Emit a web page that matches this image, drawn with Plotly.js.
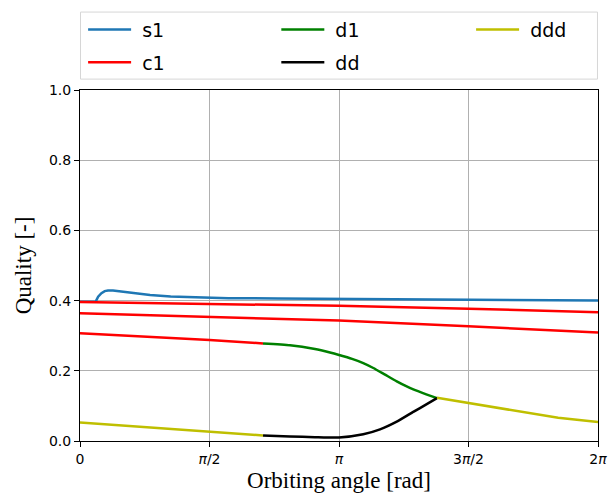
<!DOCTYPE html>
<html>
<head>
<meta charset="utf-8">
<script src="https://cdn.plot.ly/plotly-3.0.1.min.js"></script>
<style>
  html, body { margin: 0; padding: 0; background: #fff; }
  #chart { width: 610px; height: 496px; }
</style>
</head>
<body>
<div id="chart"></div>
<script>
// Orbiting angle (rad) and quality for each regime

// s1
const s1Angle = [0, 0.19, 0.22, 0.26, 0.30, 0.34, 0.40, 0.50, 0.65, 0.85, 1.10, 1.40, 1.80, 2.40, 3.14, 4.00, 4.90, 5.60, 6.283];
const s1Quality = [0.397, 0.397, 0.411, 0.421, 0.427, 0.429, 0.429, 0.426, 0.421, 0.416, 0.412, 0.409, 0.407, 0.406, 0.405, 0.404, 0.402, 0.401, 0.400];

// c1, three passes
const c1AngleA = [0, 1.571, 3.142, 4.712, 6.283];
const c1QualityA = [0.396, 0.391, 0.385, 0.377, 0.367];
const c1AngleB = [0, 1.571, 3.142, 4.712, 6.283];
const c1QualityB = [0.364, 0.354, 0.343, 0.327, 0.309];
const c1AngleC = [0, 1.571, 2.220];
const c1QualityC = [0.307, 0.288, 0.278];

// d1
const d1Angle = [2.220, 2.547, 2.850, 3.032, 3.142, 3.300, 3.436, 3.558, 3.700, 3.842, 3.950, 4.043, 4.200, 4.330];
const d1Quality = [0.278, 0.273, 0.262, 0.252, 0.245, 0.234, 0.222, 0.208, 0.189, 0.170, 0.157, 0.147, 0.133, 0.122];

// dd
const ddAngle = [2.220, 2.547, 2.850, 3.142, 3.436, 3.639, 3.842, 4.043, 4.206, 4.330];
const ddQuality = [0.016, 0.013, 0.011, 0.010, 0.019, 0.033, 0.055, 0.083, 0.105, 0.122];

// ddd, two passes
const dddAngleA = [0, 1.571, 2.220];
const dddQualityA = [0.053, 0.027, 0.016];
const dddAngleB = [4.330, 4.712, 5.050, 5.373, 5.800, 6.283];
const dddQualityB = [0.123, 0.108, 0.095, 0.081, 0.066, 0.054];

// Axis ticks
const xTickVals = [0, Math.PI / 2, Math.PI, 3 * Math.PI / 2, 2 * Math.PI];
const xTickText = ['0', '<i>π</i>/2', '<i>π</i>', '3<i>π</i>/2', '2<i>π</i>'];
const yTickVals = [0, 0.2, 0.4, 0.6, 0.8, 1.0];

// join separate passes into one trace with gaps
function joinPasses(parts) {
  const out = [];
  parts.forEach((p, i) => {
    if (i > 0) out.push(null);
    out.push(...p);
  });
  return out;
}

const LW = 2.5;
const PAD = '\u00a0';
const traces = [
  { name: PAD + 's1', x: s1Angle, y: s1Quality, mode: 'lines',
    line: { color: '#1f77b4', width: LW }, legend: 'legend', legendgroup: 'g1' },
  { name: PAD + 'c1', x: joinPasses([c1AngleA, c1AngleB, c1AngleC]),
    y: joinPasses([c1QualityA, c1QualityB, c1QualityC]), mode: 'lines', connectgaps: false,
    line: { color: '#ff0000', width: LW }, legend: 'legend', legendgroup: 'g2' },
  { name: PAD + 'd1', x: d1Angle, y: d1Quality, mode: 'lines',
    line: { color: '#008000', width: LW, shape: 'spline', smoothing: 0.5 }, legend: 'legend2', legendgroup: 'g3' },
  { name: PAD + 'dd', x: ddAngle, y: ddQuality, mode: 'lines',
    line: { color: '#000000', width: LW, shape: 'spline', smoothing: 0.5 }, legend: 'legend2', legendgroup: 'g4' },
  { name: PAD + 'ddd', x: joinPasses([dddAngleA, dddAngleB]), y: joinPasses([dddQualityA, dddQualityB]),
    mode: 'lines', connectgaps: false,
    line: { color: '#bfbf00', width: LW }, legend: 'legend3', legendgroup: 'g5' }
];

const legendBase = {
  orientation: 'v', yanchor: 'top', xanchor: 'left', y: 1.226,
  bgcolor: 'rgba(0,0,0,0)', borderwidth: 0, itemwidth: 43, tracegroupgap: 5,
  font: { family: 'DejaVu Sans', size: 19, color: '#000' }
};

const layout = {
  width: 610, height: 496,
  margin: { l: 80, r: 12, t: 90, b: 55, autoexpand: false },
  paper_bgcolor: '#fff', plot_bgcolor: '#fff',
  showlegend: true,
  legend: Object.assign({}, legendBase, { x: 0.006 }),
  legend2: Object.assign({}, legendBase, { x: 0.379 }),
  legend3: Object.assign({}, legendBase, { x: 0.755 }),
  xaxis: {
    range: [0, 2 * Math.PI], tickmode: 'array', tickvals: xTickVals, ticktext: xTickText,
    showgrid: true, gridcolor: '#b0b0b0', gridwidth: 1, zeroline: false,
    showline: true, linecolor: '#000', linewidth: 1, mirror: true,
    ticks: 'outside', ticklen: 5, tickwidth: 1, tickcolor: '#000',
    tickfont: { family: 'DejaVu Sans', size: 14, color: '#000' },
    title: { text: 'Orbiting angle [rad]', font: { family: 'Liberation Serif', size: 23, color: '#000' }, standoff: 6 }
  },
  yaxis: {
    range: [0, 1], tickmode: 'array', tickvals: yTickVals, tickformat: '.1f',
    showgrid: true, gridcolor: '#b0b0b0', gridwidth: 1, zeroline: false,
    showline: true, linecolor: '#000', linewidth: 1, mirror: true,
    ticks: 'outside', ticklen: 5, tickwidth: 1, tickcolor: '#000',
    tickfont: { family: 'DejaVu Sans', size: 14, color: '#000' },
    title: { text: 'Quality [-]', font: { family: 'Liberation Serif', size: 23, color: '#000' }, standoff: 10 }
  },
  shapes: [{
    type: 'rect', xref: 'paper', yref: 'paper',
    x0: 0.001, x1: 0.999, y0: 1.031, y1: 1.222,
    line: { color: '#d6d6d6', width: 1 }, fillcolor: 'rgba(255,255,255,0.8)', layer: 'below'
  }]
};

Plotly.newPlot('chart', traces, layout, { displayModeBar: false, staticPlot: true });
</script>
</body>
</html>
